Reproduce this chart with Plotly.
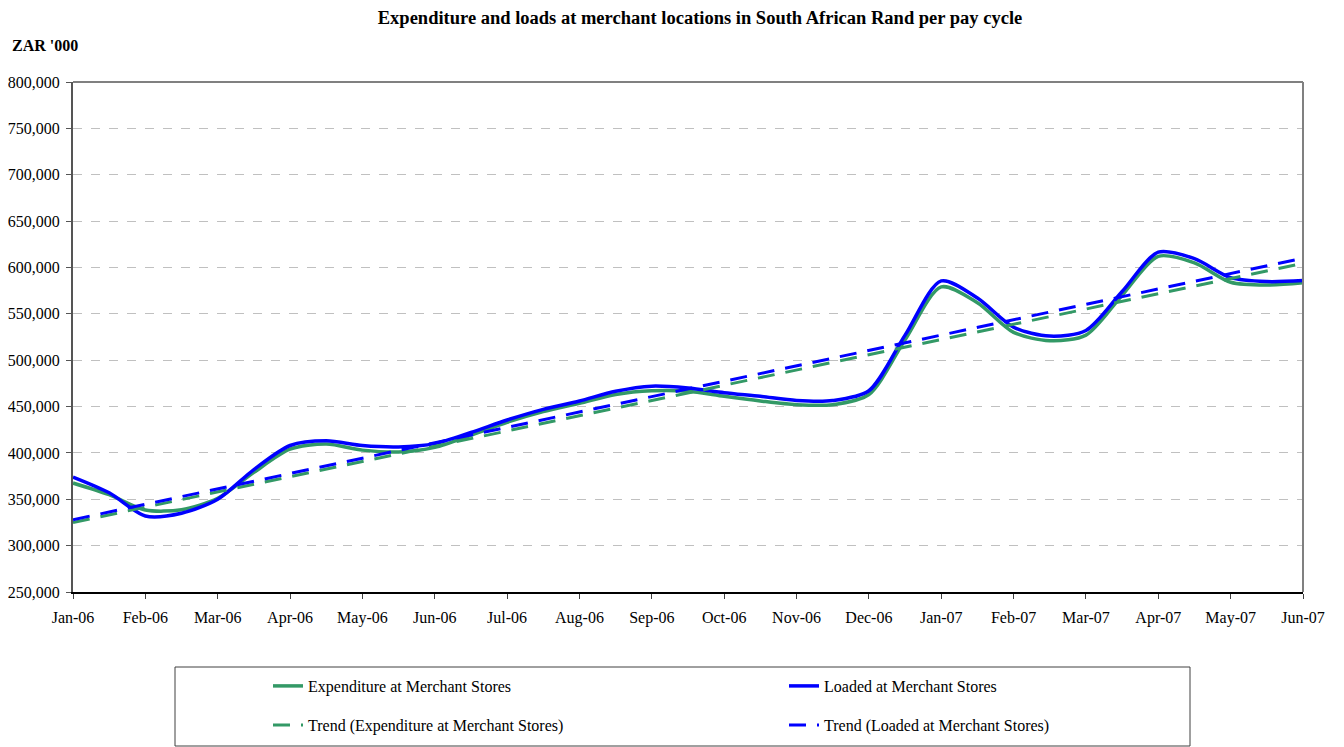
import numpy as np
import plotly.graph_objects as go

# month labels (one tick every second pay cycle)
months = ["Jan-06", "Feb-06", "Mar-06", "Apr-06", "May-06", "Jun-06", "Jul-06", "Aug-06", "Sep-06",
          "Oct-06", "Nov-06", "Dec-06", "Jan-07", "Feb-07", "Mar-07", "Apr-07", "May-07", "Jun-07"]

# values per pay cycle, ZAR '000 (two cycles per month)
expenditure = [367500, 355000, 338500, 338700, 351000, 379000, 404000, 409500, 403000, 401000,
               406000, 419000, 433000, 444500, 453500, 463000, 467000, 466500, 461000, 456000,
               452000, 452000, 463000, 522000, 579000, 562000, 530000, 521000, 527000, 570000,
               612000, 605000, 584000, 581000, 583500]
loaded = [374000, 357000, 332000, 335000, 350000, 382000, 408000, 413000, 408000, 406500,
          410000, 422000, 435500, 447000, 456000, 466500, 472000, 470000, 465000, 461000,
          456500, 456500, 467000, 527000, 585500, 567000, 535500, 526000, 532000, 574000,
          616500, 609500, 589000, 584800, 585800]

# linear trend lines as shown (value at Jan-06 and at Jun-07)
trend_expenditure = [325000, 604500]
trend_loaded = [328000, 610000]

x = np.arange(len(loaded)) / 2.0
x_trend = [0, len(months) - 1]

GREEN = "#339966"
BLUE = "#0000FF"
FONT = "Liberation Serif"

# page offset (body margin) and plot box in page pixels
OFF = 8
L, R, T, B = 73, 1303, 82, 592


def px(p):
    return (p - L) / (R - L)


def py(p):
    return (B - p) / (B - T)


fig = go.Figure()
fig.add_trace(go.Scatter(x=x, y=expenditure, mode="lines", name="Expenditure at Merchant Stores",
                         line=dict(color=GREEN, width=3.5, shape="spline", smoothing=0.8), legend="legend"))
fig.add_trace(go.Scatter(x=x, y=loaded, mode="lines", name="Loaded at Merchant Stores",
                         line=dict(color=BLUE, width=3.5, shape="spline", smoothing=0.8), legend="legend2"))
fig.add_trace(go.Scatter(x=x_trend, y=trend_expenditure, mode="lines", name="Trend (Expenditure at Merchant Stores)",
                         line=dict(color=GREEN, width=3, dash="17px,11px"), legend="legend3"))
fig.add_trace(go.Scatter(x=x_trend, y=trend_loaded, mode="lines", name="Trend (Loaded at Merchant Stores)",
                         line=dict(color=BLUE, width=3, dash="17px,11px"), legend="legend4"))

#X-Axis
fig.update_xaxes(range=[0, len(months) - 1], tickvals=list(range(len(months))), ticktext=months,
                 showgrid=False, showline=True, linecolor="black", linewidth=1.5, automargin=False,
                 ticks="outside", ticklen=5, tickcolor="#404040", ticklabelstandoff=5,
                 tickfont=dict(family=FONT, size=16, color="black"), zeroline=False)

#Y-axis
fig.update_yaxes(range=[250000, 800000], dtick=50000, tickformat=",", showgrid=True,
                 gridcolor="#c0c0c0", griddash="dash", gridwidth=1, automargin=False,
                 showline=True, linecolor="#555555", linewidth=2,
                 ticks="outside", ticklen=5, tickcolor="#555555", ticklabelstandoff=3,
                 tickfont=dict(family=FONT, size=16, color="black"), zeroline=False)

leg = dict(orientation="h", bgcolor="rgba(0,0,0,0)", borderwidth=0,
           font=dict(family=FONT, size=16, color="black"), xanchor="left", yanchor="middle")

# Layout
fig.update_layout(title={"text": "<b>Expenditure and loads at merchant locations in South African Rand per pay cycle</b>",
                         "x": (700 - OFF) / 1344, "y": 1 - (18 - OFF) / 747, "xref": "container", "yref": "container",
                         "xanchor": "center", "yanchor": "middle",
                         "font": {"family": FONT, "size": 18.5, "color": "black"}},
                  width=1344, height=747,
                  margin=dict(l=L - OFF, r=1344 - R + OFF, t=T - OFF, b=747 - B + OFF),
                  plot_bgcolor="white", paper_bgcolor="white",
                  legend=dict(leg, x=px(268), y=py(686)),
                  legend2=dict(leg, x=px(784), y=py(686)),
                  legend3=dict(leg, x=px(268), y=py(725)),
                  legend4=dict(leg, x=px(784), y=py(725)),
                  showlegend=True)

# Annotations
fig.add_annotation(text="<b>ZAR '000</b>", xref="paper", yref="paper", x=px(10), y=py(45),
                   xanchor="left", yanchor="middle", showarrow=False,
                   font=dict(family=FONT, size=16, color="black"))

# plot frame (top and right) and legend box
fig.add_shape(type="line", xref="paper", yref="paper", x0=0, x1=1, y0=1, y1=1, line=dict(color="#808080", width=2))
fig.add_shape(type="line", xref="paper", yref="paper", x0=1, x1=1, y0=0, y1=1, line=dict(color="#808080", width=2))
fig.add_shape(type="rect", xref="paper", yref="paper", x0=px(175), x1=px(1190),
              y0=py(746), y1=py(667), line=dict(color="#404040", width=1))

fig.write_html("out.html")
